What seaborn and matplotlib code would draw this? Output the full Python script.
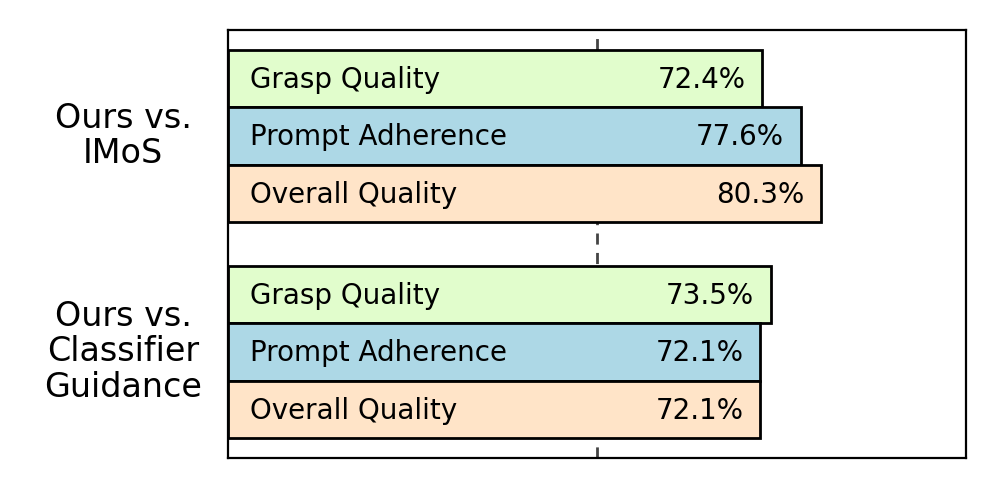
import numpy as np
import pandas as pd
import seaborn as sns
import matplotlib.pyplot as plt

groups = ['Ours vs.\nIMoS', 'Ours vs.\nClassifier\nGuidance']
metrics = ['Grasp Quality', 'Prompt Adherence', 'Overall Quality']
imos_vals = [72.4, 77.6, 80.3]
cg_vals = [73.5, 72.1, 72.1]
colors = {'Grasp Quality': '#e1fdcc', 'Prompt Adherence': '#add8e6', 'Overall Quality': '#ffe4c8'}

# bar rows: 3 per group, groups separated by a smaller gap
gap = 0.765
pos = [0, 1, 2, 3 + gap, 4 + gap, 5 + gap]
df = pd.DataFrame({
    'pos': pos,
    'value': imos_vals + cg_vals,
    'metric': metrics * 2,
})

sns.set_style('white')
plt.rcParams['text.color'] = 'black'
fig, ax = plt.subplots(figsize=(9.97, 4.98), dpi=100)
fig.subplots_adjust(left=0.2287, right=0.969, top=0.9398, bottom=0.0803)

ax.axvline(50, color='#444444', linestyle=(0, (4, 3)), linewidth=2, zorder=0)
sns.barplot(data=df, x='value', y='pos', hue='metric', palette=colors, orient='h',
            native_scale=True, dodge=False, width=1, saturation=1, edgecolor='black',
            linewidth=2, legend=False, ax=ax, zorder=2)

for p, v, m in zip(df['pos'], df['value'], df['metric']):
    ax.annotate(m, (0, p), xytext=(16, -1), textcoords='offset points',
                ha='left', va='center', fontsize=20, color='black', zorder=3)
    ax.annotate(f'{v:.1f}%', (v, p), xytext=(-12, -1), textcoords='offset points',
                ha='right', va='center', fontsize=20, color='black', zorder=3)

for g, c in zip(groups, [pos[1], pos[4]]):
    ax.text(-0.142, c, g, transform=ax.get_yaxis_transform(), ha='center',
            va='center', fontsize=24, linespacing=1.1, color='black')

ax.set_xlim(0, 100)
ax.set_ylim(5 + gap + 0.5 + 0.348, -0.5 - 0.348)
ax.set_xticks([])
ax.set_yticks([])
ax.set_xlabel('')
ax.set_ylabel('')
for s in ax.spines.values():
    s.set_visible(True)
    s.set_color('black')
    s.set_linewidth(1.6)

plt.savefig('out.png', dpi=100)
